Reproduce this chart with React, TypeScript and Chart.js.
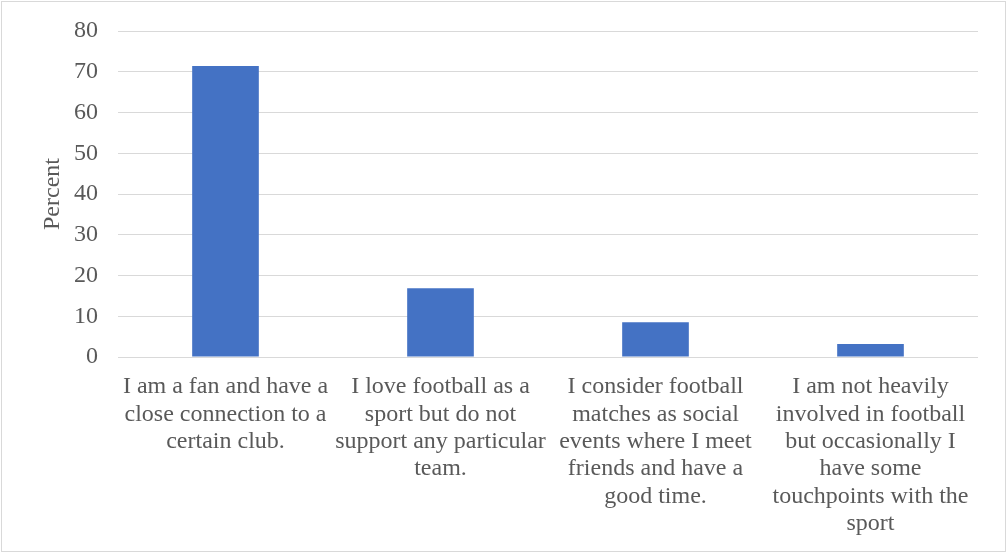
import React, { useEffect, useRef } from "react";
import { Chart, registerables } from "chart.js";

Chart.register(...registerables);

const categories: string[][] = [
  ["I am a fan and have a", "close connection to a", "certain club."],
  ["I love football as a", "sport but do not", "support any particular", "team."],
  ["I consider football", "matches as social", "events where I meet", "friends and have a", "good time."],
  ["I am not heavily", "involved in football", "but occasionally I", "have some", "touchpoints with the", "sport"],
];
const percentValues: number[] = [71.4, 16.9, 8.5, 3.2];
const yTicks = { min: 0, max: 80, step: 10 };
const yTitle = "Percent";

export default function App() {
  const ref = useRef<HTMLCanvasElement | null>(null);
  useEffect(() => {
    if (!ref.current) return;
    const family = "'Liberation Serif', 'Times New Roman', serif";
    const chart = new Chart(ref.current, {
      type: "bar",
      data: {
        labels: categories,
        datasets: [
          {
            data: percentValues,
            backgroundColor: "#4472c4",
            borderWidth: 0,
            categoryPercentage: 1,
            barPercentage: 0.31,
          },
        ],
      },
      options: {
        responsive: false,
        animation: false,
        maintainAspectRatio: false,
        layout: { padding: { top: 31, right: 29, left: 0, bottom: 0 } },
        plugins: { legend: { display: false }, tooltip: { enabled: false } },
        scales: {
          x: {
            grid: { display: false, drawTicks: false },
            border: { display: false },
            ticks: {
              color: "#595959",
              font: { family, size: 24, lineHeight: 1.145 },
              padding: 16,
              maxRotation: 0,
              autoSkip: false,
            },
            afterFit: (s: any) => {
              s.height = 196;
              s.paddingLeft = 0;
              s.paddingRight = 0;
            },
          },
          y: {
            min: yTicks.min,
            max: yTicks.max,
            grid: { color: "#d9d9d9", lineWidth: 1, drawTicks: false },
            border: { display: false },
            ticks: { stepSize: yTicks.step, color: "#595959", font: { family, size: 24 }, padding: 20 },
            title: {
              display: true,
              text: yTitle,
              color: "#595959",
              font: { family, size: 24, lineHeight: 1.2 },
              padding: { top: 38, bottom: 0 },
            },
            afterFit: (s: any) => {
              s.width = 118;
              s.paddingTop = 0;
              s.paddingBottom = 0;
            },
          },
        },
      },
    });
    return () => chart.destroy();
  }, []);
  return (
    <div style={{ position: "fixed", left: 0, top: 0, width: 1007, height: 553, background: "#fff" }}>
      <canvas ref={ref} width={1007} height={553} style={{ position: "absolute", left: 0, top: 0 }} />
      <div
        style={{
          position: "absolute",
          left: 1,
          top: 1,
          width: 1003,
          height: 549,
          border: "1px solid #d9d9d9",
          pointerEvents: "none",
        }}
      />
    </div>
  );
}
